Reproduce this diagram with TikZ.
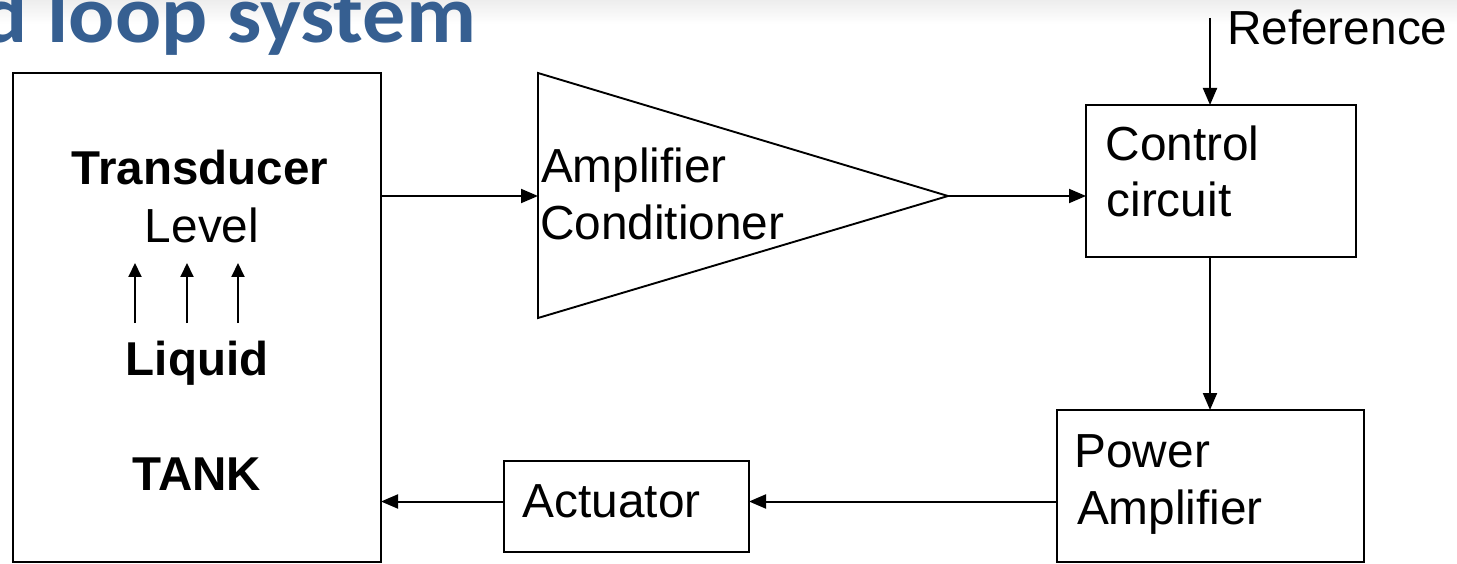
\documentclass[tikz,border=0pt]{standalone}
\usepackage{fontspec}
\setmainfont{Liberation Sans}
\newfontfamily\titlefont{Carlito}
\usetikzlibrary{arrows.meta}
\definecolor{titleblue}{RGB}{54,95,145}
\begin{document}
\begin{tikzpicture}[x=1pt,y=-1pt,
  box/.style={draw, line width=1.9pt, inner sep=0, outer sep=0},
  lbl/.style={font=\fontsize{47.8}{56}\selectfont, inner sep=0, outer sep=0},
  bl/.style={font=\fontsize{47.5}{56}\selectfont\bfseries, inner sep=0, outer sep=0, anchor=base},
  arr/.style={line width=2pt, -{Triangle[length=17pt,width=14pt]}},
  smallarr/.style={line width=2pt, -{Triangle[length=14pt,width=13pt]}}]
\useasboundingbox (0,0) rectangle (1457,564);
\shade[top color=black!7, bottom color=white] (0,0) rectangle (1457,24);
% title fragment
\node[inner sep=0, anchor=base east, text=titleblue, font=\titlefont\bfseries\fontsize{82}{90}\selectfont] (title) at (476,43) {\scalebox{1.05}[1]{d loop system}};
% tank
\node[box, minimum width=368pt, minimum height=489pt] (tank) at (197,317.5) {};
\node[bl] (transd) at (200,185) {Transducer};
\node[lbl, anchor=base] (level) at (202,243) {Level};
\node[bl] (liquid) at (197,375) {Liquid};
\node[bl] (tanklbl) at (197,490) {TANK};
\coordinate (a1s) at (135,323); \coordinate (a1e) at (135,263);
\coordinate (a2s) at (187,323); \coordinate (a2e) at (187,263);
\coordinate (a3s) at (238,323); \coordinate (a3e) at (238,263);
\draw[smallarr] (a1s) -- (a1e);
\draw[smallarr] (a2s) -- (a2e);
\draw[smallarr] (a3s) -- (a3e);
% amplifier triangle
\coordinate (tl) at (538,73);
\coordinate (tb) at (538,318);
\coordinate (apex) at (948,196);
\draw[line width=1.9pt, line join=miter] (tl) -- (apex) -- (tb) -- cycle;
\node[lbl, anchor=base west] (amp1) at (541,183) {Amplifier};
\node[lbl, anchor=base west] (amp2) at (540,240) {Conditioner};
% control circuit
\node[box, minimum width=270pt, minimum height=152pt] (ctrl) at (1221,181) {};
\node[lbl, anchor=base west] (ctrl1) at (1105.5,161) {Control};
\node[lbl, anchor=base west] (ctrl2) at (1106.5,217) {circuit};
% reference
\coordinate (refin) at (1210,18);
\node[lbl, anchor=base west] (reftxt) at (1227,45) {Reference};
% power amplifier
\node[box, minimum width=307pt, minimum height=152pt] (pow) at (1210.5,486) {};
\node[lbl, anchor=base west] (pow1) at (1074.5,467) {Power};
\node[lbl, anchor=base west] (pow2) at (1077,524) {Amplifier};
% actuator
\node[box, minimum width=245pt, minimum height=91pt] (act) at (626.5,506.5) {};
\node[lbl, anchor=base west] (acttxt) at (522.5,517) {Actuator};
\coordinate (lvl) at (0,501.5);
% connectors
\draw[arr] (tank.east |- apex) -- (tl |- apex);
\draw[arr] (apex) -- (ctrl.west |- apex);
\draw[arr] (refin) -- (ctrl.north -| refin);
\draw[arr] (ctrl.south -| refin) -- (pow.north -| refin);
\draw[arr] (pow.west |- lvl) -- (act.east |- lvl);
\draw[arr] (act.west |- lvl) -- (tank.east |- lvl);
\end{tikzpicture}
\end{document}
